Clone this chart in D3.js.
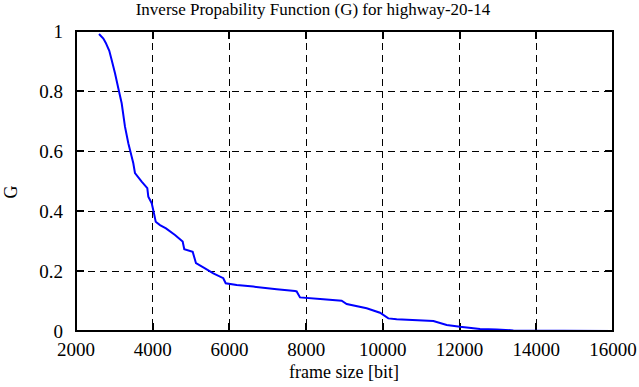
<!DOCTYPE html>
<html lang="en">
<head>
<meta charset="UTF-8">
<title>Inverse Propability Function</title>
<script src="https://d3js.org/d3.v7.min.js"></script>
<style>
  body { margin: 0; background: #fff; }
  svg text { font-family: "Liberation Serif", "Times New Roman", serif; fill: #000; }
  .grid line { stroke: #000; stroke-width: 1; stroke-dasharray: 7,5; shape-rendering: crispEdges; }
</style>
</head>
<body>
<svg id="chart" width="639" height="387"></svg>
<script>
// frame size [bit] and G values
const frameSize = [2600, 2713, 2774, 2868, 2930, 3017, 3103, 3191, 3277, 3364, 3408, 3452, 3494, 3538,
  3712, 3859, 3885, 3974, 4033, 4078, 4190, 4346, 4581, 4781, 4823, 5042, 5128, 5319, 5580, 5840,
  5903, 6190, 6622, 7232, 7709, 7753, 7840, 8448, 8926, 9057, 9578, 9925, 10143, 10360, 11317,
  11665, 12012, 12533, 12968, 13403, 16000];
const gValues = [0.99, 0.975, 0.961, 0.934, 0.903, 0.859, 0.809, 0.759, 0.681, 0.626, 0.603, 0.581, 0.559, 0.526,
  0.498, 0.476, 0.448, 0.426, 0.392, 0.364, 0.353, 0.342, 0.32, 0.298, 0.273, 0.264, 0.226, 0.212, 0.192, 0.176,
  0.159, 0.153, 0.148, 0.139, 0.133, 0.132, 0.112, 0.106, 0.101, 0.09, 0.076, 0.061, 0.042, 0.039, 0.033,
  0.02, 0.014, 0.007, 0.005, 0.002, 0];
const xTicks = [2000, 4000, 6000, 8000, 10000, 12000, 14000, 16000];
const yTicks = [0, 0.2, 0.4, 0.6, 0.8, 1];

const svg = d3.select("#chart");
const margin = {left: 76, right: 26, top: 31, bottom: 56};
const width = 639 - margin.left - margin.right,
      height = 387 - margin.top - margin.bottom;

const x = d3.scaleLinear().domain([2000, 16000]).range([0, width]);
const y = d3.scaleLinear().domain([0, 1]).range([height, 0]);

const g = svg.append("g").attr("transform", `translate(${margin.left},${margin.top})`);

// dashed grid
const grid = g.append("g").attr("class", "grid");
grid.selectAll(".vx").data(xTicks.slice(1, -1)).enter().append("line")
    .attr("x1", d => x(d)).attr("x2", d => x(d)).attr("y1", 0).attr("y2", height);
grid.selectAll(".hy").data(yTicks.slice(1, -1)).enter().append("line")
    .attr("x1", 0).attr("x2", width).attr("y1", d => y(d)).attr("y2", d => y(d));

// inward ticks on all four sides
const tickLen = 8;
const ticks = g.append("g").attr("stroke", "#000").attr("stroke-width", 2)
    .attr("shape-rendering", "crispEdges");
xTicks.forEach(d => {
  ticks.append("line").attr("x1", x(d)).attr("x2", x(d)).attr("y1", height).attr("y2", height - tickLen);
  ticks.append("line").attr("x1", x(d)).attr("x2", x(d)).attr("y1", 0).attr("y2", tickLen);
});
yTicks.forEach(d => {
  ticks.append("line").attr("x1", 0).attr("x2", tickLen).attr("y1", y(d)).attr("y2", y(d));
  ticks.append("line").attr("x1", width).attr("x2", width - tickLen).attr("y1", y(d)).attr("y2", y(d));
});

// tick labels
g.selectAll(".xl").data(xTicks).enter().append("text")
    .attr("x", d => x(d)).attr("y", height + 25)
    .attr("text-anchor", "middle").style("font-size", "19px")
    .text(d => d);
g.selectAll(".yl").data(yTicks).enter().append("text")
    .attr("x", -13).attr("y", d => y(d) + 7)
    .attr("text-anchor", "end").style("font-size", "19px")
    .text(d => d);

// curve
const line = d3.line().x((d, i) => x(frameSize[i])).y(d => y(d));
g.append("path").datum(gValues)
    .attr("fill", "none").attr("stroke", "#0000ff").attr("stroke-width", 2)
    .attr("d", line);

// frame
g.append("rect").attr("width", width).attr("height", height)
    .attr("fill", "none").attr("stroke", "#000").attr("stroke-width", 2)
    .attr("shape-rendering", "crispEdges");

// titles
svg.append("text").attr("x", 313).attr("y", 15).attr("text-anchor", "middle")
    .style("font-size", "17px").text("Inverse Propability Function (G) for highway-20-14");
svg.append("text").attr("x", 344).attr("y", 378).attr("text-anchor", "middle")
    .style("font-size", "18px").text("frame size [bit]");
svg.append("text").attr("transform", "translate(17,192) rotate(-90)").attr("text-anchor", "middle")
    .style("font-size", "18px").text("G");
</script>
</body>
</html>
